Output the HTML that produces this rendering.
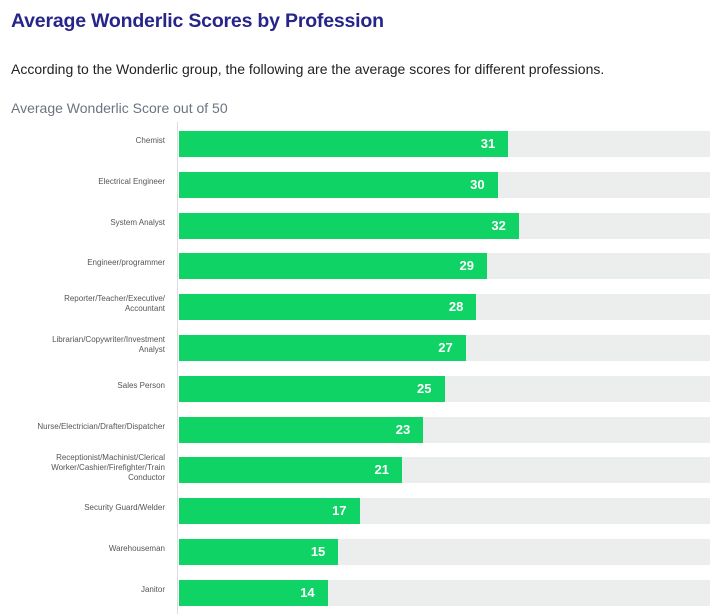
<!DOCTYPE html>
<html><head><style>
body{margin:0;width:720px;height:614px;background:#fff;font-family:"Liberation Sans",sans-serif;position:relative;overflow:hidden}
.t{position:absolute;left:11px;top:10px;font-size:19.5px;font-weight:bold;color:#27258a;letter-spacing:-0.2px}
.s{position:absolute;left:11px;top:61px;font-size:14px;color:#222}
.c{position:absolute;left:11px;top:100px;font-size:14px;color:#6b7480}
.ax{position:absolute;left:177px;top:122px;width:1px;height:492px;background:#ddd}
.bg{position:absolute;left:179px;width:531px;height:26px;background:#eceeee}
.b{position:absolute;left:179px;height:26px;background:#0fd364;color:#fff;font-weight:bold;font-size:13px;text-align:right;line-height:26px;box-sizing:border-box;padding-right:13px}
.l{position:absolute;right:555px;width:160px;text-align:right;font-size:8px;line-height:10px;color:#555;transform:translateY(-50%)}
</style></head><body>
<div class="t">Average Wonderlic Scores by Profession</div>
<div class="s">According to the Wonderlic group, the following are the average scores for different professions.</div>
<div class="c">Average Wonderlic Score out of 50</div>
<div class="ax"></div>
<div id="r"></div>
<script>
var d=[["Chemist",31],["Electrical Engineer",30],["System Analyst",32],["Engineer/programmer",29],["Reporter/Teacher/Executive/<br>Accountant",28],["Librarian/Copywriter/Investment<br>Analyst",27],["Sales Person",25],["Nurse/Electrician/Drafter/Dispatcher",23],["Receptionist/Machinist/Clerical<br>Worker/Cashier/Firefighter/Train<br>Conductor",21],["Security Guard/Welder",17],["Warehouseman",15],["Janitor",14]];
var h="";
d.forEach(function(x,i){var y=131+i*40.8;
h+='<div class="bg" style="top:'+y+'px"></div><div class="b" style="top:'+y+'px;width:'+(x[1]*10.62)+'px">'+x[1]+'</div><div class="l" style="top:'+(y+(i==8?11:10))+'px">'+x[0]+'</div>';});
document.getElementById("r").innerHTML=h;
</script>
</body></html>
